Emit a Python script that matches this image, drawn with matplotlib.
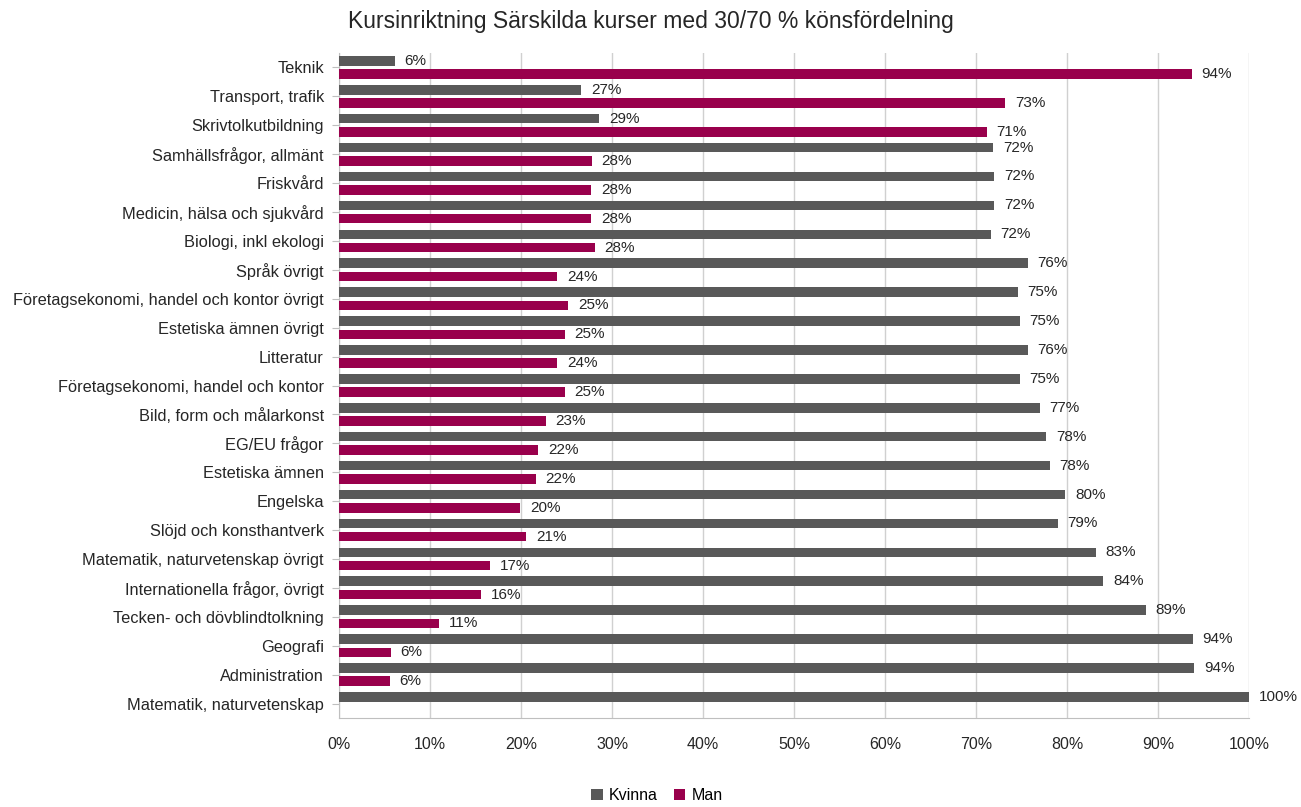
import numpy as np
import matplotlib.pyplot as plt

# kategorier uppifrån och ned
categories = [
    "Teknik", "Transport, trafik", "Skrivtolkutbildning", "Samhällsfrågor, allmänt",
    "Friskvård", "Medicin, hälsa och sjukvård", "Biologi, inkl ekologi", "Språk övrigt",
    "Företagsekonomi, handel och kontor övrigt", "Estetiska ämnen övrigt", "Litteratur",
    "Företagsekonomi, handel och kontor", "Bild, form och målarkonst", "EG/EU frågor",
    "Estetiska ämnen", "Engelska", "Slöjd och konsthantverk",
    "Matematik, naturvetenskap övrigt", "Internationella frågor, övrigt",
    "Tecken- och dövblindtolkning", "Geografi", "Administration",
    "Matematik, naturvetenskap",
]
kvinna = [6.15, 26.6, 28.6, 71.9, 72.0, 72.0, 71.6, 75.7, 74.6, 74.8, 75.7, 74.8,
          77.0, 77.7, 78.1, 79.8, 79.0, 83.2, 84.0, 88.7, 93.8, 94.0, 100.0]
man = [93.7, 73.2, 71.2, 27.8, 27.7, 27.7, 28.1, 24.0, 25.2, 24.8, 24.0, 24.8,
       22.7, 21.9, 21.6, 19.9, 20.6, 16.6, 15.6, 11.0, 5.7, 5.6, 0.0]
xticks = [0, 10, 20, 30, 40, 50, 60, 70, 80, 90, 100]

gray = "#595959"
red = "#99004c"
txt = "#262626"

plt.rcParams['font.family'] = ['Liberation Sans', 'DejaVu Sans']

fig = plt.figure(figsize=(13.01, 8.07), dpi=100)
ax = fig.add_axes([0.2606, 0.1103, 0.6994, 0.824])

y = np.arange(len(categories))
h = 0.33
off = 0.23
b1 = ax.barh(y - off, kvinna, height=h, color=gray, label="Kvinna", zorder=3)
b2 = ax.barh(y + off, man, height=h, color=red, label="Man", zorder=3)

for bars, vals in ((b1, kvinna), (b2, man)):
    for bar, v in zip(bars, vals):
        if v <= 0:
            continue
        ax.annotate(f"{round(v)}%", (v, bar.get_y() + bar.get_height() / 2),
                    xytext=(7, 0), textcoords="offset points", va="center",
                    ha="left", fontsize=11, color=txt)

ax.set_xlim(0, 100)
ax.set_ylim(len(categories) - 0.5, -0.5)
ax.set_yticks(y)
ax.set_yticklabels(categories, fontsize=11.8, color=txt)
ax.set_xticks(xticks)
ax.set_xticklabels([f"{t}%" for t in xticks], fontsize=11.5, color=txt)
ax.tick_params(axis="x", length=0, pad=14)
ax.tick_params(axis="y", length=5, color="#bfbfbf", pad=6)
ax.grid(axis="x", color="#d0d0d0", linewidth=1, zorder=0)
for s in ("top", "right"):
    ax.spines[s].set_visible(False)
for s in ("left", "bottom"):
    ax.spines[s].set_color("#bfbfbf")

fig.suptitle("Kursinriktning Särskilda kurser med 30/70 % könsfördelning",
             x=0.5, y=0.988, fontsize=16.5, color=txt)

fig.legend(handles=[b1, b2], loc="center", bbox_to_anchor=(0.505, 0.014),
           ncol=2, frameon=False, fontsize=11.5, handlelength=0.7,
           handleheight=0.7, columnspacing=1.0, handletextpad=0.4)

fig.savefig("out.png", dpi=100)
